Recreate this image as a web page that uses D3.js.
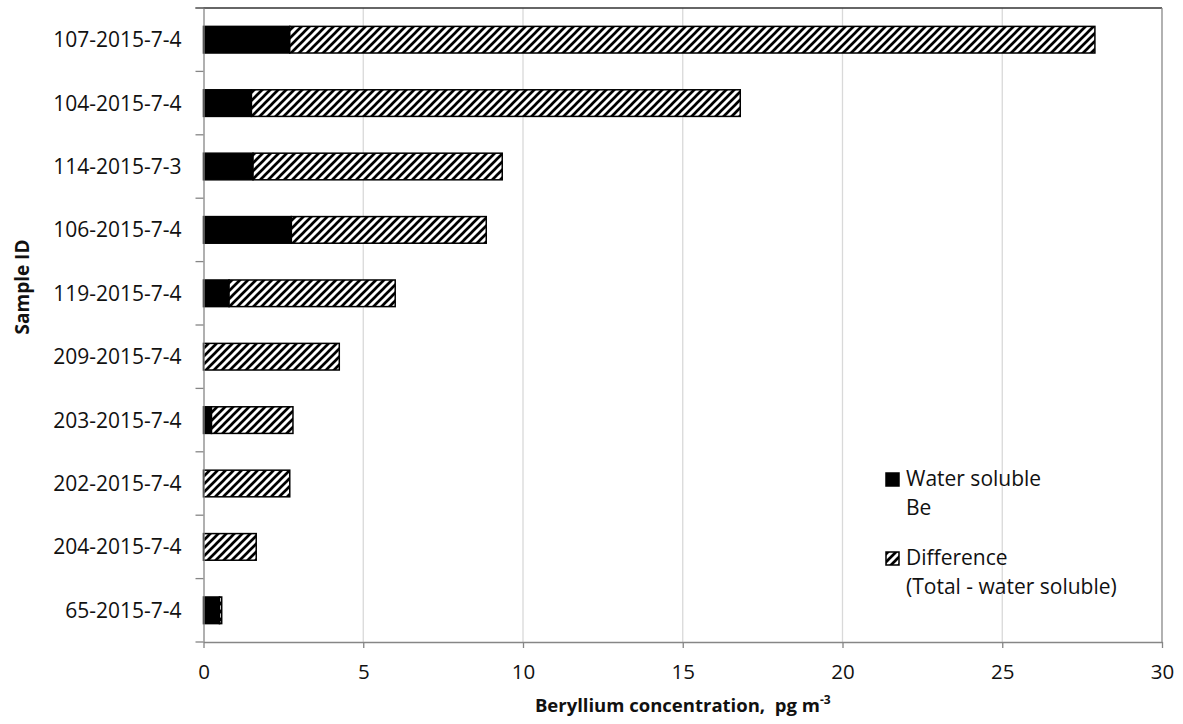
<!DOCTYPE html>
<html>
<head>
<meta charset="utf-8">
<script src="https://cdn.jsdelivr.net/npm/d3@7"></script>
<style>
  html, body { margin: 0; padding: 0; background: #fff; }
  svg { display: block; font-family: "Open Sans", "Noto Sans", sans-serif; }
</style>
</head>
<body>
<svg id="chart" width="1183" height="724"></svg>
<script>
// Sample IDs, listed top to bottom
const samples = [
  "107-2015-7-4", "104-2015-7-4", "114-2015-7-3", "106-2015-7-4", "119-2015-7-4",
  "209-2015-7-4", "203-2015-7-4", "202-2015-7-4", "204-2015-7-4", "65-2015-7-4"
];
// Water-soluble Be, pg m-3
const waterSoluble = [2.7, 1.5, 1.55, 2.75, 0.8, 0, 0.25, 0, 0, 0.5];
// Total minus water-soluble Be, pg m-3
const difference = [25.2, 15.3, 7.8, 6.1, 5.2, 4.25, 2.55, 2.7, 1.65, 0.07];
const xTicks = [0, 5, 10, 15, 20, 25, 30];
const seriesNames = [["Water soluble", "Be"], ["Difference", "(Total - water soluble)"]];

const svg = d3.select("#chart");
const plotLeft = 203.5, plotRight = 1162, plotTop = 8, plotBottom = 642;

const x = d3.scaleLinear().domain([0, 30]).range([plotLeft, plotRight]);
const y = d3.scaleBand().domain(samples).range([plotTop, plotBottom])
  .paddingInner(0.58).paddingOuter(0.29);

// Hatch pattern for the difference segment
const defs = svg.append("defs");
const pat = defs.append("pattern")
  .attr("id", "hatch").attr("patternUnits", "userSpaceOnUse")
  .attr("width", 8).attr("height", 8);
pat.append("rect").attr("width", 8).attr("height", 8).attr("fill", "#fff");
pat.append("path")
  .attr("d", "M-2,2 L2,-2 M0,8 L8,0 M6,10 L10,6")
  .attr("stroke", "#000").attr("stroke-width", 2.7);

// Vertical gridlines
svg.append("g").selectAll("line")
  .data(xTicks.filter(t => t > 0 && t < 30))
  .join("line")
  .attr("x1", d => x(d)).attr("x2", d => x(d))
  .attr("y1", plotTop).attr("y2", plotBottom)
  .attr("stroke", "#d9d9d9").attr("stroke-width", 1.3);

// Plot-area frame: top and right edges
svg.append("line").attr("x1", plotLeft - 8).attr("x2", plotRight).attr("y1", plotTop).attr("y2", plotTop)
  .attr("stroke", "#333").attr("stroke-width", 1.5);
svg.append("line").attr("x1", plotRight).attr("x2", plotRight).attr("y1", plotTop).attr("y2", plotBottom)
  .attr("stroke", "#888").attr("stroke-width", 1.3);

// Bars
const rows = samples.map((s, i) => ({ s, w: waterSoluble[i], d: difference[i] }));
const g = svg.append("g");
g.selectAll("rect.ws").data(rows.filter(r => r.w > 0)).join("rect")
  .attr("class", "ws")
  .attr("x", x(0)).attr("y", d => y(d.s))
  .attr("width", d => x(d.w) - x(0)).attr("height", y.bandwidth())
  .attr("fill", "#000").attr("stroke", "#000").attr("stroke-width", 1.5);
g.selectAll("rect.diff").data(rows).join("rect")
  .attr("class", "diff")
  .attr("x", d => x(d.w)).attr("y", d => y(d.s))
  .attr("width", d => x(d.w + d.d) - x(d.w)).attr("height", y.bandwidth())
  .attr("fill", "url(#hatch)").attr("stroke", "#000").attr("stroke-width", 1.5);

// X axis
const xAxis = svg.append("g").attr("transform", `translate(0,${plotBottom})`)
  .call(d3.axisBottom(x).tickValues(xTicks).tickSize(6).tickSizeOuter(0));
xAxis.select(".domain").attr("stroke", "#868686").attr("stroke-width", 1.3);
xAxis.selectAll(".tick line").attr("stroke", "#868686").attr("stroke-width", 1.3);
xAxis.selectAll(".tick text").attr("dy", null).attr("y", 37)
  .attr("font-size", 20.5).attr("fill", "#111").style("font-family", "Open Sans");

// Y axis: labels centred on bands, ticks on band boundaries
const yAxis = svg.append("g").attr("transform", `translate(${plotLeft},0)`)
  .call(d3.axisLeft(y).tickSize(0).tickPadding(22));
yAxis.select(".domain").attr("stroke", "#868686").attr("stroke-width", 1.3);
yAxis.selectAll(".tick text").attr("dy", "0.36em")
  .attr("font-size", 21).attr("fill", "#111").style("font-family", "Open Sans");
const step = y.step();
svg.append("g").selectAll("line")
  .data(d3.range(samples.length + 1))
  .join("line")
  .attr("x1", plotLeft - 8).attr("x2", plotLeft)
  .attr("y1", i => plotTop + i * step).attr("y2", i => plotTop + i * step)
  .attr("stroke", "#868686").attr("stroke-width", 1.3);

// Axis titles
const xt = svg.append("text")
  .attr("x", (plotLeft + plotRight) / 2).attr("y", 712)
  .attr("text-anchor", "middle").attr("font-size", 18.5).attr("font-weight", "bold").attr("fill", "#111");
xt.append("tspan").text("Beryllium concentration,\u00a0 pg m");
xt.append("tspan").text("-3").attr("font-size", 12).attr("dy", -8);

svg.append("text")
  .attr("transform", "translate(29,287) rotate(-90)")
  .attr("text-anchor", "middle").attr("font-size", 19).attr("font-weight", "bold").attr("fill", "#111")
  .text("Sample ID");

// Legend
const legend = svg.append("g").attr("font-size", 21).attr("fill", "#111");
const legendTops = [473, 552];
seriesNames.forEach((lines, i) => {
  const ly = legendTops[i];
  legend.append("rect").attr("x", 886).attr("y", ly).attr("width", 13).attr("height", 13)
    .attr("fill", i === 0 ? "#000" : "url(#hatch)").attr("stroke", "#000").attr("stroke-width", 1.5);
  lines.forEach((t, j) => {
    legend.append("text").attr("x", 906).attr("y", ly + 13 + j * 29).text(t);
  });
});
</script>
</body>
</html>
